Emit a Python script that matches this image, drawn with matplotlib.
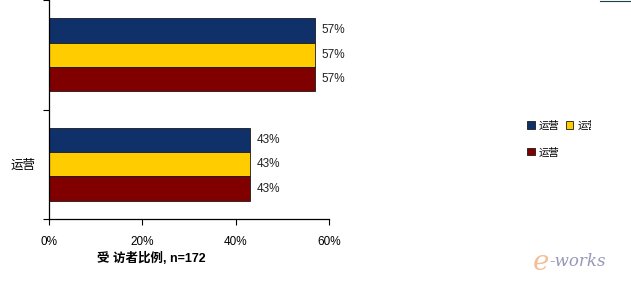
import matplotlib.pyplot as plt
import numpy as np
from matplotlib.transforms import Bbox

plt.rcParams['font.family'] = ['Liberation Sans', 'Noto Sans CJK SC', 'DejaVu Sans']

# 数据
categories = ['运营', '']
series_names = ['运营', '运营', '运营']
blue_vals = [43, 57]
yellow_vals = [43, 57]
red_vals = [43, 57]
colors = ['#10306a', '#ffcc00', '#800000']

fig = plt.figure(figsize=(6.31, 2.86), dpi=100)
W, H = 631, 286
ax = fig.add_axes([49 / W, (H - 219) / H, 280 / W, 219 / H])

y = np.arange(len(categories))
h = 0.222
bars = []
for vals, off, c, name in zip([blue_vals, yellow_vals, red_vals], [h, 0, -h], colors, series_names):
    b = ax.barh(y + off, vals, height=h, color=c, edgecolor='#1a1a1a', linewidth=0.6, label=name)
    ax.bar_label(b, labels=[f'{v}%' for v in vals], padding=5, fontsize=8.5, color='#222222')
    bars.append(b)

ax.set_xlim(0, 60)
ax.set_ylim(-0.5, 1.5)
ax.set_xticks([0, 20, 40, 60])
ax.set_xticklabels(['0%', '20%', '40%', '60%'], fontsize=8.5)
ax.tick_params(axis='x', length=4, width=0.8, pad=8)
ax.set_yticks([-0.5, 0.5, 1.5])
ax.set_yticklabels([])
ax.set_yticks(y, minor=True)
ax.set_yticklabels(categories, minor=True, fontsize=9)
ax.tick_params(axis='y', which='minor', length=0, pad=10)
ax.tick_params(axis='y', which='major', length=4, width=0.8)
for s in ['top', 'right']:
    ax.spines[s].set_visible(False)
ax.spines['left'].set_linewidth(0.9)
ax.spines['bottom'].set_linewidth(0.9)

fig.text(97 / W, 1 - 258 / H, '受 访者比例, n=172', fontsize=9, fontweight='bold', va='center', ha='left')

# 图例按行排列: 蓝、黄 / 红
leg = fig.legend(handles=[bars[0], bars[2], bars[1]], labels=series_names, ncol=2, frameon=False,
                 loc='upper left', bbox_to_anchor=(518 / W, 1 - 111 / H),
                 fontsize=7.5, handlelength=0.7, handleheight=0.7, handletextpad=0.4,
                 columnspacing=0.6, labelspacing=1.6)
clip = Bbox.from_extents(0, 0, 591, H)
for t in leg.get_texts():
    t.set_clip_box(clip)
    t.set_clip_on(True)

# 右上角小线条
fig.add_artist(plt.Line2D([600 / W, 1], [0.998, 0.998], color='#1e3f48', linewidth=0.8))

# 水印
fig.text(533 / W, 1 - 262 / H, 'e', fontsize=20, style='italic', color='#f0b080', alpha=0.8, va='center', family='DejaVu Serif')
fig.text(549 / W, 1 - 262 / H, '-works', fontsize=12, style='italic', color='#7a7fa8', alpha=0.8, va='center', family='DejaVu Serif')

fig.savefig('out.png', dpi=100)
